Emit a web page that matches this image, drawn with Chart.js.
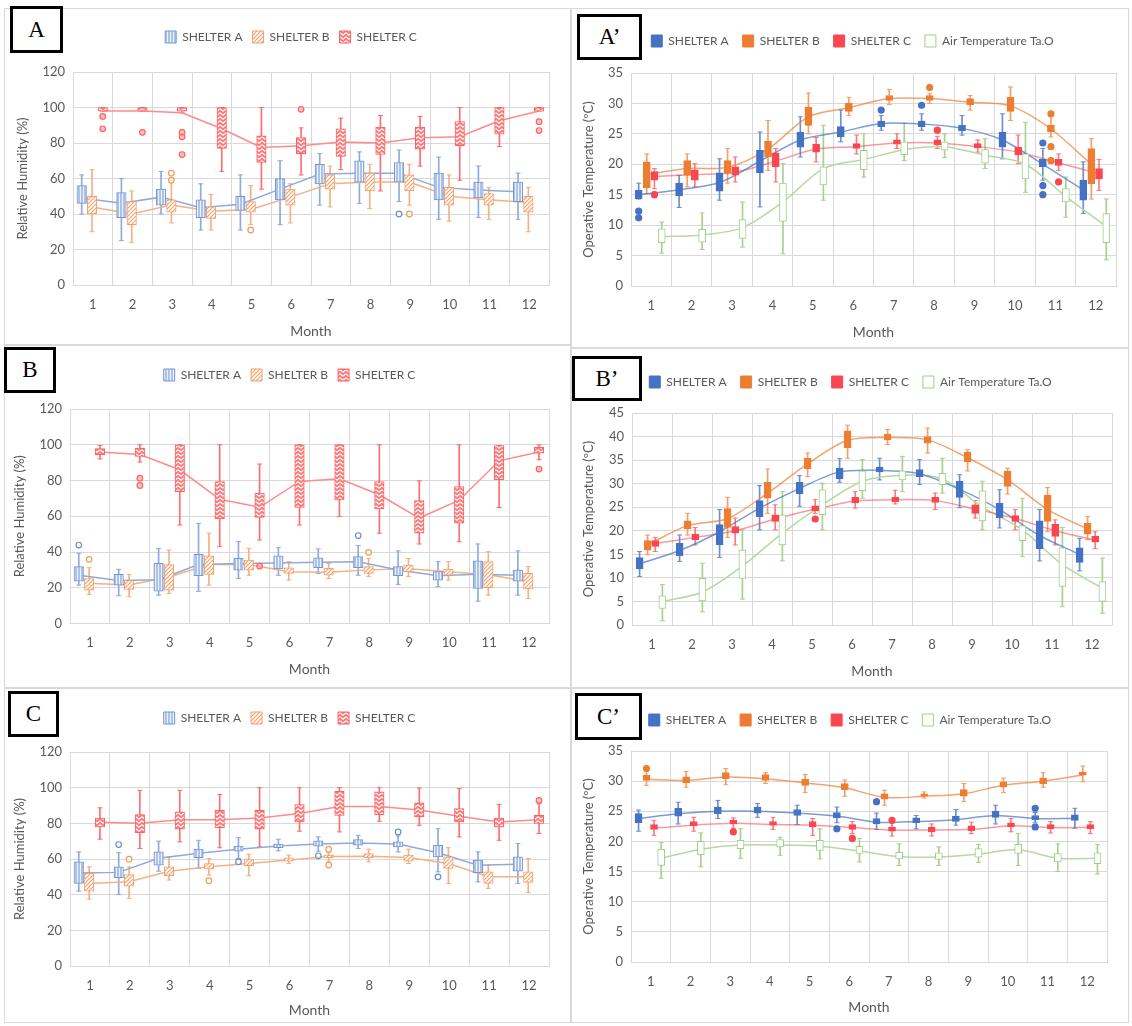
<!DOCTYPE html>
<html>
<head>
<meta charset="utf-8">
<script src="https://cdn.jsdelivr.net/npm/chart.js@4.4.1/dist/chart.umd.min.js"></script>
<style>
  body { margin: 0; width: 1132px; height: 1026px; position: relative; overflow: hidden; background: #fff; font-family: Lato, sans-serif; }
  .card { position: absolute; border: 1px solid #d9d9d9; box-sizing: border-box; background: #fff; }
  .card canvas { position: absolute; left: -1px; top: -1px; }
  .tag { position: absolute; border: 3px solid #000; box-sizing: border-box; background: #fff;
         font-family: "Liberation Serif", serif; font-size: 23px; color: #000;
         display: flex; align-items: center; justify-content: center; z-index: 2; }
</style>
</head>
<body>
<script>
// months on the x axis
const months = [1, 2, 3, 4, 5, 6, 7, 8, 9, 10, 11, 12];

// every box is [whisker min, Q1, Q3, whisker max]; outliers are [month, value]

// ---- A : relative humidity ----
const rhA_A = [[40,46,56,62],[25,38,52,60],[40,45,54,64],[31,38,48,57],[31,42,50,62],[34,48,60,70],[45,57,68,74],[46,58,70,75],[47,58,69,76],[37,48,63,72],[38,49,58,67],[37,47,58,63]];
const rhA_A_mean = [49,46,49.5,43.5,45.5,54,62.5,63,63,55,53.5,52.5];
const rhA_A_out = [[9,40]];
const rhA_B = [[30,40,50,65],[24,34,47,53],[35,41,48,59],[31,37.5,44,51],[34,41,47,56],[35,45,54,57],[44,54,62,67],[43,53,63,68],[45,53,62,68],[36,45,55,62],[37,45,51.5,55],[30,41,50,55]];
const rhA_B_mean = [44,40,45,41.5,42.5,49.5,57,58,58,50,48,46.5];
const rhA_B_out = [[3,63],[3,59],[5,31],[9,40]];
const rhA_C = [[98,98,100,100],[98,98,100,100],[97,98,100,100],[64,77,100,100],[54,69,84,100],[62,74,83,88.5],[65,72.5,88,94],[53,73.5,89,95.5],[67,76.5,89,95],[59,78.5,92,100],[78,85,100,100],[98,98,100,100]];
const rhA_C_mean = [98,98,97,88,77.5,78.5,80.5,80,83,83.5,92.5,98];
const rhA_C_out = [[1,95],[1,88],[2,86],[3,86],[3,83.5],[3,73.5],[6,99],[12,92],[12,87]];

// ---- A' : operative temperature ----
const toA_A = [[14.3,14.3,15.7,16.9],[12.9,14.8,16.9,18.2],[14.1,15.6,18.6,20.9],[13,18.6,22.3,25.3],[21.2,22.8,25.3,27.8],[23.7,24.5,26.2,28.9],[25.6,26.2,27.1,28],[25.6,26.2,27.1,28.3],[24.8,25.5,26.4,28],[20.9,22.8,25.3,28.3],[17.4,19.6,20.8,22.6],[11.9,14.1,17.4,20.4]];
const toA_A_mean = [15,15.8,17,20.5,24,25.3,26.7,26.6,25.9,24,20,15.8];
const toA_A_out = [[1,12.3],[1,11.2],[7,28.9],[8,29.7],[11,23.5],[11,16.5],[11,15]];
const toA_B = [[15.2,16.1,20.4,21.7],[16.3,18.2,20.6,21.7],[16.9,18.5,20.6,22.6],[19,21.2,23.8,27.2],[25,26.4,29.4,31.7],[28,28.7,30,31],[29.8,30.5,31.3,32.3],[30,30.5,31.3,31.6],[28.9,29.8,30.8,31.3],[27.2,28.7,31,32.7],[24.5,25.3,26.4,27.8],[14.3,16.8,22.6,24.2]];
const toA_B_mean = [18.3,19.3,19.5,22.5,27.8,29.3,30.8,30.8,30.2,29.6,25.8,20];
const toA_B_out = [[8,32.6],[11,28.3],[11,22.9],[11,20.6]];
const toA_C = [[16,17.4,18.8,19.3],[16.3,17.4,19.1,20.1],[17.1,18.2,19.6,21.2],[17.1,19.6,21.9,22.6],[20.4,22,23.3,24.4],[21.7,22.6,23.4,24.8],[22.6,23.3,24,25],[22.6,23.2,24,24.6],[22,22.7,23.4,24],[20.1,21.6,22.8,24.8],[19,19.8,20.8,21.7],[15.7,17.6,19.3,20.8]];
const toA_C_mean = [18,18.3,18.7,20.5,22.5,22.9,23.5,23.5,22.9,22,20.2,18.5];
const toA_C_out = [[1,15],[8,25.6],[11,17.1]];
const toA_D = [[5.4,7.1,9.4,10.5],[6,7.2,9.3,12],[6.4,7.8,10.9,13.8],[5.3,10.6,16.9,20.1],[14.1,16.6,19.6,26.4],[17.9,19.1,22.3,25],[20.6,21.6,23.7,26.7],[21.1,22.3,23.7,25],[19.3,20.2,22.4,24.2],[15.4,17.6,21.7,26.9],[11.3,13.8,16,17.9],[4.3,7.1,11.9,14.3]];
const toA_D_mean = [8.1,8.4,9.6,13.8,19.3,20.8,22.4,22.9,21.5,20,14.7,9.8];

// ---- B : relative humidity ----
const rhB_A = [[21.5,23.7,31.8,39.3],[15.5,21.5,27.5,30.3],[15.9,18.1,33.6,42],[18,26.7,38.7,56],[25.2,29.9,36.4,45.8],[27,30.5,37.8,42.4],[28,31.2,36.8,41.7],[27,31.2,37.4,43.6],[21.9,26.7,31.8,40.6],[20.6,24.3,29,34.6],[12.5,19.6,35,44.5],[15.9,23.7,29.9,40.6]];
const rhB_A_mean = [27,24,24.5,33,33.6,33.8,34.2,34.6,29.9,26.7,27.6,27];
const rhB_A_out = [[1,43.9],[8,49.2]];
const rhB_B = [[16.3,18.7,25.2,31.2],[15,19.1,24.1,27.5],[16.8,18.7,33,41.1],[21.5,27.5,37.8,50.5],[27,29.9,35.5,42],[24.3,28,31.2,34.6],[25.2,27.1,30.8,33.6],[26.2,28,31.8,36.4],[26.2,29,32.7,36.4],[24.3,27.1,30.5,34.6],[15.9,20,34.6,40.2],[14,19.3,28,31.8]];
const rhB_B_mean = [22.5,21.5,26,33,33,29,28.7,30,30.6,29,27.3,23.5];
const rhB_B_out = [[1,35.9],[8,39.8]];
const rhB_C = [[92.1,94.4,97.8,99.6],[90.3,93.5,98.1,100],[55.1,73.8,100,100],[43,58.5,79.4,100],[46.7,59.3,72.9,89.2],[55.1,65,100,100],[59.8,69.2,100,100],[50.5,64.1,79.4,100],[44.5,50.5,68.8,79.8],[45.8,56.1,76.6,100],[64.9,80.4,99.6,99.6],[91.6,95.3,98.5,100]];
const rhB_C_mean = [96,94.5,86,69.5,65,79.5,81,72,59,69,91,96];
const rhB_C_out = [[2,81.3],[2,77.2],[5,32.1],[12,86.4]];

// ---- B' : operative temperature ----
const toB_A = [[10.3,11.9,14.3,15.6],[13.5,14.7,17.4,19.1],[14.3,17,21.3,24.5],[20.2,23,26.4,29.6],[25.2,27.8,30.3,31.7],[30.3,31,33.3,35.3],[30.8,32.5,33.5,35.4],[29.8,31.5,33,35.1],[24.9,27.1,30.5,31.9],[20.6,22.8,25.9,28.7],[13.6,16.2,22.1,24.5],[11.5,13.3,16.4,18.4]];
const toB_A_mean = [13,15.8,19.8,24.8,29,32.5,32.8,32.1,28.8,24.5,19,15];
const toB_A_out = [];
const toB_B = [[14.9,15.9,17.9,19.1],[19.1,20.4,22.1,23.7],[18.6,20.7,24.7,27.1],[23.7,26.9,30.3,33.1],[31.5,33.2,35.4,36.5],[35.4,37.6,41.2,42.4],[38.3,39.3,40.5,41.5],[36.5,38.6,40,41.8],[32.7,34.6,36.7,37.2],[27.8,29.4,32.6,33.3],[19.8,22,27.6,29.2],[18.1,19.3,21.6,23]];
const toB_B_mean = [17,21.1,22.6,28,34.2,39.2,39.8,39.3,35.5,30.8,24.5,20.4];
const toB_B_out = [];
const toB_C = [[15.6,16.7,17.9,18.6],[17,18.1,19.3,20.7],[17,19.5,20.9,22.7],[20.2,22,23.4,25.5],[23.7,24.2,25.3,26.6],[24.8,25.9,27.1,28.3],[25.7,26.2,27.1,28.6],[24.5,26,27.1,28],[22.7,23.7,25.5,26.4],[20.2,22,23.2,24.5],[17,18.8,21.4,22.3],[16.2,17.6,18.8,19.8]];
const toB_C_mean = [17.3,18.6,20,22.5,24.6,26.3,26.6,26.4,24.6,22.6,20,18];
const toB_C_out = [[5,22.5]];
const toB_D = [[0.9,3.5,6.2,8.6],[2.8,5.1,9.9,13.1],[5.5,9.9,15.9,20.2],[13.6,17,23.4,28.3],[20.2,23.4,28.7,30.1],[26.9,28.5,32.7,35.1],[28.3,30.8,32.7,35.8],[28,29.8,32.2,35.4],[20.2,22.1,28.5,30.5],[14.5,17.9,21.1,26.9],[3.9,8.2,16.4,20.7],[2.5,5,9.2,14.2]];
const toB_D_mean = [5,7,12.5,19.5,25.5,30.5,31.8,31,25,20.2,12.8,7.8];

// ---- C : relative humidity ----
const rhC_A = [[42,46.3,58.4,64],[40.1,49.5,55.6,63.5],[53.2,56.6,64,70],[54.7,60.7,65.5,70.5],[60.3,64.4,67.2,71.9],[64.6,66.3,68.3,71.1],[64.4,67.2,70.2,72.4],[65.9,67.7,70.9,73.3],[64,66.8,69.6,73],[52.8,61.2,67.7,77],[47.2,52.3,59.4,64],[46.3,53.2,61.2,68.7]];
const rhC_A_mean = [52.2,52.5,60.4,63.2,65.5,67.3,68.4,69,68.4,63.5,56.5,57];
const rhC_A_out = [[2,68.1],[5,58.4],[7,61.8],[9,75.2],[10,50]];
const rhC_B = [[37.5,42,51.9,55.6],[37.9,44.8,51.3,55.6],[48.2,50.6,55.6,61.2],[51,54.3,57.5,60.3],[50.6,56.2,59.9,62.7],[57.5,58.8,60.7,62.2],[58.4,60.8,62.2,63.5],[58.4,60.7,63.1,65.5],[57.5,58.8,62.2,65.5],[46.3,54.7,61.2,66.3],[43.5,46.3,52.8,56.6],[41.2,46.8,52.8,60.3]];
const rhC_B_mean = [46.3,47.2,53.1,55.6,57.5,59.5,61.4,61.5,60.8,57.5,50,50];
const rhC_B_out = [[2,59.9],[4,47.8],[7,65.5],[7,56.6]];
const rhC_C = [[71.1,78,83,88.7],[65.9,74.8,84.9,98.5],[69.6,76.7,86.4,98.5],[66.3,77.5,87.3,96.1],[66.8,76.7,87.3,100],[75.6,80.8,90.5,100],[75.2,84.5,98,100],[81.2,84.9,97.6,100],[78.9,83.6,91.5,99.8],[72.4,80.8,88.3,99.5],[70.5,78,83,90.5],[74.3,79.9,84.5,91]];
const rhC_C_mean = [80.6,80,82,82,83,85.5,89.5,89.5,87.5,84,80.8,82];
const rhC_C_out = [[12,92.9]];

// ---- C' : operative temperature ----
const toC_A = [[21.7,23.1,24.6,25.2],[22.9,24.2,25.5,26.5],[23.8,24.6,25.7,26.8],[24,24.7,25.7,26.3],[22.8,24.3,25.3,26],[23.1,23.9,24.8,25.7],[22,22.9,23.8,24.7],[22.1,23.1,23.9,24.3],[22.7,23.3,24.2,25.3],[22.9,24,25,26],[23.2,23.6,24.3,24.8],[22.2,23.5,24.4,25.5]];
const toC_A_mean = [23.8,24.6,25,25,24.7,24.2,23.2,23.3,23.6,24.3,23.8,23.8];
const toC_A_out = [[6,22.1],[7,26.6],[11,25.5],[11,22.4]];
const toC_B = [[29.3,30.1,31,31.8],[29,29.7,30.7,31.6],[29.4,30.4,31.4,32.1],[29.6,30.1,31.1,31.4],[28.1,29.3,30.3,31.1],[27.5,28.6,29.6,30.2],[26,27,27.9,28.5],[27.2,27.5,27.9,28.2],[26.6,27.5,28.6,29.6],[28.1,29,29.9,30.5],[29,29.6,30.5,31.4],[29.9,31,31.5,32.5]];
const toC_B_mean = [30.3,30.1,30.7,30.4,29.7,28.9,27.3,27.5,27.9,29.3,30,31];
const toC_B_out = [[1,32.1]];
const toC_C = [[21,22,22.8,23.5],[21.7,22.6,23.3,24],[22.2,22.9,23.5,23.9],[22,22.7,23.3,24],[21,22.4,23.3,23.8],[21.3,22,22.8,23.3],[20.9,21.7,22.4,23],[20.9,21.6,22.4,22.9],[21.3,21.8,22.6,23.2],[21.6,22.4,23.1,23.8],[21.4,22.1,22.8,23.3],[21.3,22.1,22.8,23.3]];
const toC_C_mean = [22.2,22.7,23,22.8,22.7,22.3,21.9,21.9,22,22.6,22.3,22.3];
const toC_C_out = [[3,21.6],[6,20.5],[7,23.5]];
const toC_D = [[13.9,16,18.7,19.8],[15.8,17.8,20,21.4],[17.2,18.8,20.2,22.1],[17.7,19.1,20.3,20.7],[17.1,18.5,20.2,22.1],[16.6,18,19.2,20.5],[16,17.1,18.2,19.6],[16,17,18.1,19.1],[16.5,17.4,18.8,19.5],[16,18,19.5,21.3],[15,16.6,18,19.6],[14.6,16.3,18.1,19.5]];
const toC_D_mean = [17.2,18.7,19.4,19.4,19.2,18.4,17.5,17.4,17.9,18.6,17.2,17.2];

const shelterNames = ['SHELTER A', 'SHELTER B', 'SHELTER C', 'Air Temperature Ta.O'];

// small fill patterns like the Excel hatches
function hatch(kind, ink, paper) {
    const c = document.createElement('canvas');
    const w = kind === 'zig' ? 6 : (kind === 'vert' ? 3 : 4), h = 4;
    c.width = w; c.height = h;
    const g = c.getContext('2d');
    g.fillStyle = paper;
    g.fillRect(0, 0, w, h);
    g.strokeStyle = ink;
    g.lineWidth = 1.1;
    g.beginPath();
    if (kind === 'vert') {
        g.moveTo(1.5, 0); g.lineTo(1.5, h);
    } else if (kind === 'diag') {
        g.moveTo(0, h); g.lineTo(w, 0);
        g.moveTo(-1, 1); g.lineTo(1, -1);
        g.moveTo(w - 1, h + 1); g.lineTo(w + 1, h - 1);
    } else {
        g.moveTo(0, 0.8); g.lineTo(3, 3.2); g.lineTo(6, 0.8);
    }
    g.stroke();
    return g.createPattern(c, 'repeat');
}

const rhStyle = [
    { off: -0.28, bw: 9.5, fill: hatch('vert', '#eef2fa', '#a9bfe6'), edge: '#7596d4', whisk: '#8faadc', line: '#8faadc', dot: '#6a8ed2', dotFill: 'rgba(255,255,255,0.6)' },
    { off: -0.02, bw: 9.5, fill: hatch('diag', '#f3a06a', '#ffffff'), edge: '#f3a06a', whisk: '#f4b183', line: '#f4b183', dot: '#f09a5c', dotFill: 'rgba(255,255,255,0.6)' },
    { off: 0.25, bw: 9.5, fill: hatch('zig', '#ffffff', '#ff7b7b'), edge: '#ff5f5f', whisk: '#ff6e6e', line: '#ff8a8a', dot: '#ff6060', dotFill: 'rgba(255,140,140,0.5)' }
];
const toStyle = [
    { off: -0.31, bw: 7, fill: '#4472c4', edge: '#4472c4', whisk: '#6d8fd0', line: 'rgba(68,114,196,0.7)', dot: '#4472c4', dotFill: '#4472c4' },
    { off: -0.11, bw: 7, fill: '#ed7d31', edge: '#ed7d31', whisk: '#f0a06a', line: 'rgba(237,125,49,0.7)', dot: '#ed7d31', dotFill: '#ed7d31' },
    { off: 0.08, bw: 7, fill: '#fa4650', edge: '#fa4650', whisk: '#fb7a80', line: 'rgba(250,70,80,0.55)', dot: '#fa4650', dotFill: '#fa4650' },
    { off: 0.26, bw: 7, fill: '#ffffff', edge: '#9fcf86', whisk: '#a9d18e', line: '#b5d99e', dot: '#a9d18e', dotFill: '#a9d18e' }
];

const panels = [
    { tag: 'A', tagBox: [10, 6, 53, 47], card: [4, 8, 567, 337], pad: [7, 22, 13, 1], legH: 51, legGap: 10, legShift: 11, yW: 62, xH: 59,
      kind: 'rh', yMax: 120, step: 20,
      series: [[rhA_A, rhA_A_mean, rhA_A_out], [rhA_B, rhA_B_mean, rhA_B_out], [rhA_C, rhA_C_mean, rhA_C_out]] },
    { tag: 'A’', tagBox: [577, 14, 65, 46], card: [571, 8, 558, 340], pad: [6, 13, 13, 3], legH: 52, legGap: 14, legShift: 6, yW: 54, xH: 59,
      kind: 'to', yMax: 35, step: 5,
      series: [[toA_A, toA_A_mean, toA_A_out], [toA_B, toA_B_mean, toA_B_out], [toA_C, toA_C_mean, toA_C_out], [toA_D, toA_D_mean, []]] },
    { tag: 'B', tagBox: [4, 347, 52, 46], card: [4, 345, 567, 343], pad: [4, 22, 14, 6], legH: 50, legGap: 10, legShift: 11, yW: 62, xH: 58.5,
      kind: 'rh', yMax: 120, step: 20,
      series: [[rhB_A, rhB_A_mean, rhB_A_out], [rhB_B, rhB_B_mean, rhB_B_out], [rhB_C, rhB_C_mean, rhB_C_out]] },
    { tag: 'B’', tagBox: [572, 356, 70, 45], card: [571, 348, 558, 340], pad: [6, 17, 14, 4.5], legH: 51, legGap: 14, legShift: 6, yW: 55, xH: 58.5,
      kind: 'to', yMax: 45, step: 5,
      series: [[toB_A, toB_A_mean, toB_A_out], [toB_B, toB_B_mean, toB_B_out], [toB_C, toB_C_mean, toB_C_out], [toB_D, toB_D_mean, []]] },
    { tag: 'C', tagBox: [8, 691, 51, 46], card: [4, 688, 567, 335], pad: [4, 22, 14, 0], legH: 50, legGap: 10, legShift: 11, yW: 62, xH: 57,
      kind: 'rh', yMax: 120, step: 20,
      series: [[rhC_A, rhC_A_mean, rhC_A_out], [rhC_B, rhC_B_mean, rhC_B_out], [rhC_C, rhC_C_mean, rhC_C_out]] },
    { tag: 'C’', tagBox: [575, 693, 67, 47], card: [571, 688, 558, 335], pad: [6, 22, 12, 3], legH: 51, legGap: 14, legShift: 8, yW: 54, xH: 58,
      kind: 'to', yMax: 35, step: 5,
      series: [[toC_A, toC_A_mean, toC_A_out], [toC_B, toC_B_mean, toC_B_out], [toC_C, toC_C_mean, toC_C_out], [toC_D, toC_D_mean, []]] }
];

// grid between months, labels on the months
const xTicks = [];
months.forEach(m => { xTicks.push({ value: m - 0.5 }); xTicks.push({ value: m }); });
xTicks.push({ value: months[months.length - 1] + 0.5 });

// fixed legend height (so the plot sits where it should) and a small sideways nudge
const legendPlace = {
    id: 'legendPlace',
    beforeLayout(chart, args, opts) {
        const lg = chart.legend;
        if (lg && !lg._fixedH) {
            const fit = lg.fit;
            lg.fit = function() { fit.call(this); this.height = opts.h; };
            lg._fixedH = true;
        }
    },
    afterLayout(chart, args, opts) {
        const lg = chart.legend;
        if (lg) { lg.left += opts.dx; lg.right += opts.dx; }
    }
};

function buildDatasets(p) {
    const styles = p.kind === 'rh' ? rhStyle : toStyle;
    const bend = p.kind === 'rh' ? 0 : 0.3;
    const ds = [];
    p.series.forEach(([box, mean, out], k) => {
        const st = styles[k];
        const xs = months.map(m => m + st.off);
        ds.push({
            type: 'bar', label: shelterNames[k], isBox: true, grouped: false,
            data: box.map((b, i) => ({ x: xs[i], y: [b[1], b[2]] })),
            backgroundColor: st.fill, borderColor: st.edge, borderWidth: 1, borderSkipped: false,
            barThickness: st.bw, order: 1
        });
        ds.push({
            type: 'bar', label: shelterNames[k] + ' range', grouped: false,
            data: box.map((b, i) => ({ x: xs[i], y: [b[0], b[3]] })),
            backgroundColor: st.whisk, borderWidth: 0, barThickness: 1, order: 5
        });
        ds.push({
            type: 'line', label: shelterNames[k] + ' caps', showLine: false,
            data: box.flatMap((b, i) => [{ x: xs[i], y: b[0] }, { x: xs[i], y: b[3] }]),
            pointStyle: 'line', pointRadius: 2.5, borderColor: st.whisk, borderWidth: 1, order: 5
        });
        ds.push({
            type: 'line', label: shelterNames[k] + ' mean',
            data: mean.map((v, i) => ({ x: xs[i], y: v })),
            borderColor: st.line, borderWidth: 1.5, pointRadius: 0, tension: bend, order: 2
        });
        if (out.length) {
            ds.push({
                type: 'line', label: shelterNames[k] + ' outliers', showLine: false,
                data: out.map(([m, v]) => ({ x: m + st.off, y: v })),
                pointRadius: p.kind === 'rh' ? 2.8 : 3, pointBorderWidth: 1.2,
                pointBorderColor: st.dot, pointBackgroundColor: st.dotFill, order: 0
            });
        }
    });
    return ds;
}

const textGrey = '#595959';
const gridGrey = '#d9d9d9';

panels.forEach(p => {
    const [cl, ct, cw, ch] = p.card;
    const card = document.createElement('div');
    card.className = 'card';
    card.style.cssText = `left:${cl}px;top:${ct}px;width:${cw}px;height:${ch}px`;
    const cv = document.createElement('canvas');
    cv.width = cw; cv.height = ch;
    cv.style.width = cw + 'px'; cv.style.height = ch + 'px';
    card.appendChild(cv);
    document.body.appendChild(card);

    const [tl, tt, tw, th] = p.tagBox;
    const tag = document.createElement('div');
    tag.className = 'tag';
    tag.style.cssText = `left:${tl}px;top:${tt}px;width:${tw}px;height:${th}px`;
    tag.textContent = p.tag;
    document.body.appendChild(tag);

    new Chart(cv.getContext('2d'), {
        type: 'bar',
        data: { datasets: buildDatasets(p) },
        plugins: [legendPlace],
        options: {
            responsive: false,
            animation: false,
            layout: { padding: { left: p.pad[0], right: p.pad[1], top: p.pad[2], bottom: p.pad[3] } },
            plugins: {
                legendPlace: { h: p.legH, dx: p.legShift },
                tooltip: { enabled: false },
                legend: {
                    position: 'top',
                    labels: {
                        filter: (item, data) => data.datasets[item.datasetIndex].isBox,
                        boxWidth: 11, boxHeight: 12, padding: p.legGap,
                        color: textGrey, font: { family: 'Lato', size: 12 }
                    }
                }
            },
            scales: {
                x: {
                    type: 'linear', min: 0.5, max: 12.5, offset: false,
                    afterBuildTicks: ax => { ax.ticks = xTicks.map(t => ({ value: t.value })); },
                    afterFit: ax => { ax.height = p.xH; },
                    grid: {
                        offset: false, drawTicks: false,
                        color: c => (c.tick && Number.isInteger(c.tick.value)) ? 'rgba(0,0,0,0)' : gridGrey
                    },
                    border: { color: gridGrey },
                    ticks: {
                        autoSkip: false, maxRotation: 0, padding: 12, color: textGrey,
                        font: { family: 'Lato', size: 13 },
                        callback: v => Number.isInteger(v) ? String(v) : ''
                    },
                    title: { display: true, text: 'Month', color: textGrey, font: { family: 'Lato', size: 14 } }
                },
                y: {
                    min: 0, max: p.yMax, stacked: false,
                    afterFit: ax => { ax.width = p.yW; },
                    grid: { color: gridGrey, drawTicks: false },
                    border: { display: false },
                    ticks: { stepSize: p.step, padding: 8, color: textGrey, font: { family: 'Lato', size: 13 } },
                    title: {
                        display: true, color: textGrey, font: { family: 'Lato', size: 13 },
                        text: p.kind === 'rh' ? 'Relative Humidity (%)' : 'Operative Temperature (ºC)'
                    }
                }
            }
        }
    });
});
</script>
</body>
</html>
